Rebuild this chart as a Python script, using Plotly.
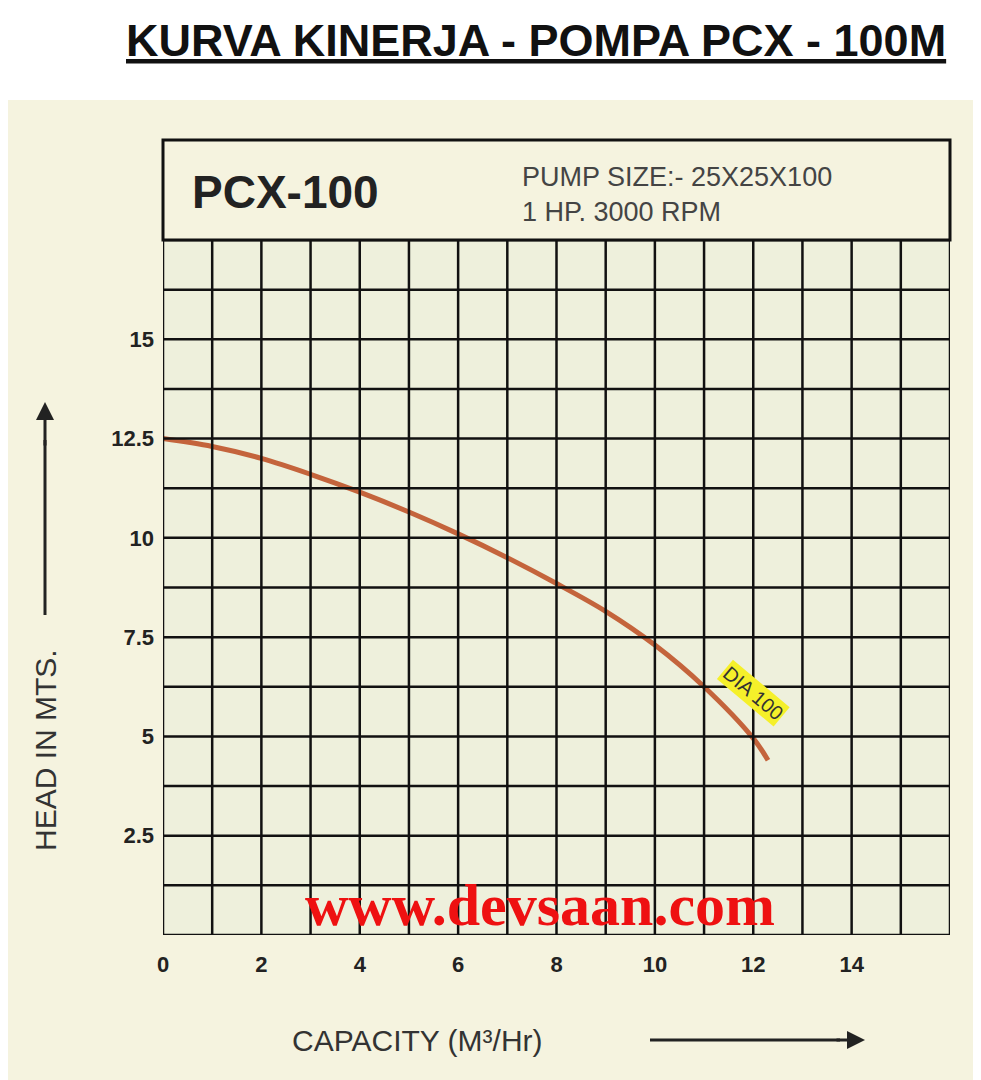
import plotly.graph_objects as go

capacity = [0, 1, 2, 3, 4, 5, 6, 7, 8, 9, 10, 11, 12, 12.3]
head = [12.5, 12.3, 12.0, 11.6, 11.15, 10.65, 10.1, 9.5, 8.85, 8.15, 7.3, 6.25, 4.95, 4.4]
x_ticks = [0, 2, 4, 6, 8, 10, 12, 14]
x_labels = ["<b>0</b>", "<b>2</b>", "<b>4</b>", "<b>6</b>", "<b>8</b>", "<b>10</b>", "<b>12</b>", "<b>14</b>"]
y_ticks = [2.5, 5, 7.5, 10, 12.5, 15]
y_labels = ["<b>2.5</b>", "<b>5</b>", "<b>7.5</b>", "<b>10</b>", "<b>12.5</b>", "<b>15</b>"]

W, H = 981, 1080
OFF = 8  # page body margin
L, T = 163 - OFF, 240 - OFF
R = W - (950 - OFF)
B = H - (935 - OFF)
ph = H - T - B
pw = W - L - R
def py(y): return (H - B - (y - OFF)) / ph
def px(x): return ((x - OFF) - L) / pw

fig = go.Figure()
fig.add_trace(go.Scatter(x=capacity, y=head, mode="lines",
                         line=dict(color="#c4643c", width=5, shape="spline"),
                         hoverinfo="skip", showlegend=False))

font = "Liberation Sans, Arial, sans-serif"
def ann(text, x, y, size, color="#222", family=font, **kw):
    d = dict(text=text, xref="paper", yref="paper", x=px(x), y=py(y), showarrow=False,
             xanchor="center", yanchor="middle", font=dict(family=family, size=size, color=color))
    d.update(kw)
    return d

fig.update_layout(
    width=W, height=H, margin=dict(l=L, r=R, t=T, b=B),
    paper_bgcolor="#f5f3df", plot_bgcolor="#eef0dc",
    xaxis=dict(range=[0, 16], tickvals=x_ticks, ticktext=x_labels, showgrid=False, zeroline=False,
               ticks="", ticklabelstandoff=14,
               tickfont=dict(family=font, size=22, color="#222"), fixedrange=True),
    yaxis=dict(range=[0, 17.5], tickvals=y_ticks, ticktext=y_labels, showgrid=False,
               zeroline=False, ticks="", ticklabelstandoff=8,
               tickfont=dict(family=font, size=22, color="#222"), fixedrange=True),
    shapes=[
        dict(type="rect", xref="paper", yref="paper", x0=-1, x1=2, y0=py(100), y1=py(-10),
             fillcolor="white", line_width=0, layer="below"),
        dict(type="rect", xref="paper", yref="paper", x0=0, x1=1, y0=1, y1=py(140),
             fillcolor="#f5f3df", line=dict(color="#111", width=3)),
    ] + [dict(type="line", x0=i, x1=i, y0=0, y1=17.5, line=dict(color="#111", width=2.5)) for i in range(17)]
      + [dict(type="line", x0=0, x1=16, y0=j * 1.25, y1=j * 1.25, line=dict(color="#111", width=2.5)) for j in range(15)]
      + [dict(type="line", xref="paper", yref="paper", x0=px(650), x1=px(840), y0=py(1040), y1=py(1040),
              line=dict(color="#222", width=3)),
         dict(type="line", xref="paper", yref="paper", x0=px(45), x1=px(45), y0=py(615), y1=py(440),
              line=dict(color="#222", width=3))],
    annotations=[
        ann("<b><u>KURVA KINERJA - POMPA PCX - 100M</u></b>", 536, 40, 45, "#111"),
        ann("<b>PCX-100</b>", 285, 192, 46),
        ann("PUMP SIZE:- 25X25X100<br>1 HP. 3000 RPM", 520, 195, 27, "#444", xanchor="left", align="left"),
        dict(text="DIA 100", x=12.0, y=6.1, showarrow=False, textangle=40,
             bgcolor="#f5f02a", font=dict(family=font, size=20, color="#333")),
        ann("<b>www.devsaan.com</b>", 540, 905, 60, "#ee1111",
            family="Liberation Serif, Times New Roman, serif"),
        ann("CAPACITY (M³/Hr)", 417, 1040, 30, "#333"),
        ann("HEAD IN MTS.", 45, 750, 30, "#333", textangle=-90),
        dict(text="", xref="paper", yref="paper", x=px(865), y=py(1040), ax=-30, ay=0,
             showarrow=True, arrowhead=2, arrowsize=1.2, arrowwidth=3, arrowcolor="#222"),
        dict(text="", xref="paper", yref="paper", x=px(45), y=py(402), ax=0, ay=45,
             showarrow=True, arrowhead=2, arrowsize=1.2, arrowwidth=3, arrowcolor="#222"),
    ],
)
fig.write_html("out.html")
